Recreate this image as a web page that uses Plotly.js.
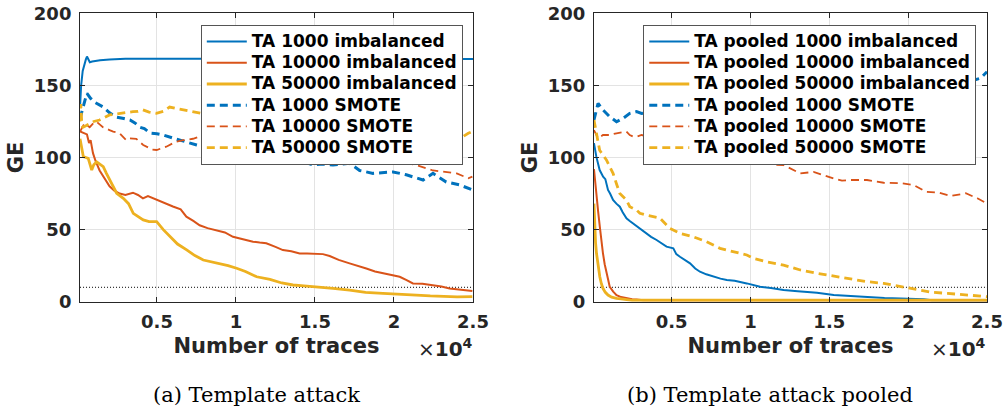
<!DOCTYPE html>
<html>
<head>
<meta charset="utf-8">
<script src="https://cdn.plot.ly/plotly-3.0.1.min.js"></script>
<style>
  html, body { margin: 0; padding: 0; background: #fff; }
  #chart { width: 1004px; height: 410px; }
</style>
</head>
<body>
<div id="chart"></div>
<script>
// ---------- data (x in units of 10^4 traces, y = guessing entropy) ----------
const xTickVals = [0.5, 1, 1.5, 2, 2.5];
const xTickText = ['0.5', '1', '1.5', '2', '2.5'];
const yTickVals = [0, 50, 100, 150, 200];
const threshold = 10;

const namesA = ['TA 1000 imbalanced', 'TA 10000 imbalanced', 'TA 50000 imbalanced',
                'TA 1000 SMOTE', 'TA 10000 SMOTE', 'TA 50000 SMOTE'];
const namesB = ['TA pooled 1000 imbalanced', 'TA pooled 10000 imbalanced', 'TA pooled 50000 imbalanced',
                'TA pooled 1000 SMOTE', 'TA pooled 10000 SMOTE', 'TA pooled 50000 SMOTE'];

// (a) Template attack
const aBlueImbX = [0.013, 0.02, 0.03, 0.04, 0.05, 0.057, 0.065, 0.075, 0.09, 0.11, 0.14, 0.2, 0.3, 0.5, 1.0, 1.5, 2.0, 2.5];
const aBlueImbY = [135, 150, 160, 165, 168, 170, 168, 166, 166.5, 167, 167.5, 168, 168.5, 168.5, 168.5, 168.5, 168.5, 168.3];

const aOrangeImbX = [0.013,0.03,0.057,0.07,0.08,0.095,0.11,0.137,0.17,0.2,0.23,0.264,0.3,0.348,0.38,0.411,0.443,0.47,0.496,0.55,0.601,0.65,0.686,0.73,0.77,0.82,0.876,0.93,0.981,1.05,1.108,1.15,1.192,1.25,1.297,1.35,1.403,1.45,1.508,1.55,1.593,1.65,1.719,1.77,1.825,1.88,1.930,1.98,2.036,2.08,2.120,2.18,2.247,2.30,2.352,2.42,2.496];
const aOrangeImbY = [118,117,116,110,112,103,98,91,85,80,77,75,74,75.6,74,71.7,73.3,72,70.5,68,66,64,59,56,53,51,49.7,48,45,43,41.6,41,40.5,38,35.8,35,33.5,33.5,33.5,33,31.7,29,26.6,25,23,21,19.7,18.5,17.3,15,12.7,12.5,11.6,10.5,9.2,8.3,7.4];

const aYellowImbX = [0.013,0.034,0.05,0.065,0.087,0.1,0.118,0.14,0.16,0.18,0.203,0.245,0.287,0.32,0.35,0.38,0.413,0.45,0.498,0.54,0.582,0.63,0.688,0.74,0.793,0.85,0.899,0.95,1.004,1.06,1.131,1.215,1.29,1.361,1.43,1.508,1.56,1.614,1.719,1.82,1.930,2.03,2.141,2.23,2.31,2.40,2.496];
const aYellowImbY = [113,100.6,100,99.4,91.3,95,97,95,93.6,89,84.4,75.2,71.7,68,61.3,59,56.7,55.5,55.5,50,45,40,35.9,32,28.9,27.5,26.6,25,23.2,21,17.3,15.5,13,11.6,11,10.4,9.5,9.2,8,6.5,5.8,5,4.6,4,3.5,3.4,3.5];

const aBlueSmoteX = [0.013,0.03,0.045,0.057,0.08,0.11,0.16,0.2,0.245,0.29,0.329,0.36,0.392,0.42,0.456,0.5,0.54,0.6,0.646,0.7,0.751,0.85,0.95,1.05,1.15,1.25,1.33,1.403,1.487,1.55,1.614,1.719,1.783,1.867,1.994,2.078,2.184,2.247,2.331,2.416,2.496];
const aBlueSmoteY = [127,133,140,144.5,141,138,135,131,128,127,126,124,121,120,117,116.5,115.6,113.5,112,110,108.7,106,104,102,101,100,99,98,94.8,95.5,94.8,96,91,89,90,88,84.4,89,83,81,77.5];

const aOrangeSmoteX = [0.013,0.042,0.074,0.097,0.116,0.158,0.2,0.223,0.264,0.306,0.329,0.369,0.413,0.432,0.47,0.498,0.53,0.559,0.6,0.622,0.666,0.728,0.77,0.85,0.95,1.065,1.2,1.34,1.45,1.6,1.7,1.825,1.93,2.036,2.141,2.247,2.323,2.397,2.47,2.496];
const aOrangeSmoteY = [118,123.7,121,123.7,125,121,119,118,116.8,112,113.3,113,108.7,107.5,105.5,105.2,106.5,107.5,109.8,111,112,113,114.5,110,104,100.6,101,100.6,100,99,98.5,98,96.6,97,94.8,91,90,89,85.6,86.7];

const aYellowSmoteX = [0.013,0.018,0.025,0.032,0.05,0.074,0.1,0.137,0.17,0.2,0.23,0.264,0.3,0.348,0.38,0.411,0.45,0.496,0.54,0.58,0.62,0.665,0.72,0.77,0.9,1.1,1.3,1.5,1.7,1.9,2.1,2.3,2.437,2.47,2.496];
const aYellowSmoteY = [125,137,122,121,122,123.7,125,126,128,129.5,130,130.6,131,131.8,132,133,131.5,130.6,132,135,134,133,131.5,130.6,128,125,122,121,119,117,116,115,114.5,116.8,118];

// (b) Template attack pooled
const bBlueImbX = [0.008,0.023,0.044,0.066,0.08,0.097,0.11,0.129,0.15,0.172,0.19,0.214,0.235,0.256,0.28,0.299,0.32,0.341,0.37,0.405,0.44,0.468,0.511,0.53,0.553,0.585,0.617,0.65,0.68,0.72,0.765,0.81,0.85,0.9,0.977,1.02,1.061,1.13,1.21,1.3,1.422,1.528,1.63,1.739,1.85,1.951,2.03,2.1,2.15,2.5];
const bBlueImbY = [110,100.6,91.3,86.7,85,77.5,75,70.5,68,65.9,62,57.8,56,54.3,52,50.9,49,47.4,45,42.8,40,38.2,37,33,31.2,29,26.6,23,20.8,19,17.3,16,15,14.5,12.7,11.5,10.4,9.5,8.1,7.3,6.2,4.6,4,3,2.5,2.3,2,1.8,1,1];

const bOrangeImbX = [0.008,0.016,0.024,0.035,0.045,0.055,0.065,0.076,0.087,0.097,0.108,0.13,0.151,0.18,0.214,0.25,0.278,0.32,2.5];
const bOrangeImbY = [92,82,72.8,62,52,42,33.6,26,19.7,14.5,10.4,7,4.6,3.2,2.3,1.8,1.5,1,1];

const bYellowImbX = [0.008,0.013,0.018,0.024,0.035,0.045,0.055,0.065,0.08,0.097,0.12,0.151,0.18,0.214,0.25,2.5];
const bYellowImbY = [68,49.7,41,33.6,24,17.3,12.5,9.3,6.5,4.6,3.2,2.3,2,1.7,1,1];

const bBlueSmoteX = [0.008,0.034,0.065,0.108,0.151,0.193,0.235,0.278,0.31,0.5,0.8,1.1,1.4,1.7,2.0,2.3,2.42,2.46,2.5];
const bBlueSmoteY = [126,137.6,133,128.3,124.8,127.2,130.6,131.8,130.6,133,136,140,144,148,151,153,153.8,155,159.5];

const bOrangeSmoteX = [0.008,0.034,0.065,0.108,0.151,0.193,0.214,0.235,0.256,0.278,0.31,0.45,0.6,0.75,0.9,0.955,1.04,1.104,1.16,1.21,1.26,1.316,1.4,1.485,1.528,1.58,1.633,1.739,1.845,1.963,2.036,2.111,2.195,2.27,2.365,2.439,2.498];
const bOrangeSmoteY = [119,113.3,115.6,115.6,116.8,117.9,118,115.6,114.5,114.4,115.6,112,108,104,100,98.3,96,97,95,94.8,92,89,90,86.7,85.5,84,84.4,84.4,82.5,82.1,80.9,76.3,75.6,73.3,75.2,71.7,68.2];

const bYellowSmoteX = [0.008,0.023,0.044,0.087,0.129,0.15,0.172,0.214,0.235,0.278,0.299,0.341,0.383,0.426,0.489,0.553,0.638,0.722,0.807,0.892,0.977,1.019,1.104,1.21,1.316,1.422,1.528,1.633,1.739,1.845,1.963,2.058,2.153,2.249,2.344,2.429,2.5];
const bYellowSmoteY = [126,116.8,105,98.3,89,82,75,70.5,65.9,63.6,61.3,60,59,58,50.9,47.4,45,41.6,37,34.7,32.4,30,27.7,25.4,22,19.7,17.8,16.2,13.9,12.7,10.4,8.1,6.5,5.8,5.1,4.2,3.5];

// ---------- styles ----------
const colors = ['#0072BD', '#D95319', '#EDB120', '#0072BD', '#D95319', '#EDB120'];
const widths = [2, 2, 2.8, 3, 1.8, 2.8];
const dashes = ['solid', 'solid', 'solid', '8px,5px', '8px,5px', '8px,5px'];
const tickColor = '#262626';

const seriesA = [[aBlueImbX, aBlueImbY], [aOrangeImbX, aOrangeImbY], [aYellowImbX, aYellowImbY],
                 [aBlueSmoteX, aBlueSmoteY], [aOrangeSmoteX, aOrangeSmoteY], [aYellowSmoteX, aYellowSmoteY]];
const seriesB = [[bBlueImbX, bBlueImbY], [bOrangeImbX, bOrangeImbY], [bYellowImbX, bYellowImbY],
                 [bBlueSmoteX, bBlueSmoteY], [bOrangeSmoteX, bOrangeSmoteY], [bYellowSmoteX, bYellowSmoteY]];

const xRangeA = [0.013, 2.5];
const xRangeB = [0.008, 2.5];

// legend labels rendered at 17px while rows are spaced for a 14px font
const legendLabel = n => '<span style="font-size:17px">' + n + '</span>';

const traces = [];
// threshold lines
traces.push({x: xRangeA, y: [threshold, threshold], xaxis: 'x', yaxis: 'y', mode: 'lines',
  line: {color: '#000', width: 1, dash: '1px,2px'}, showlegend: false, hoverinfo: 'skip'});
traces.push({x: xRangeB, y: [threshold, threshold], xaxis: 'x2', yaxis: 'y2', mode: 'lines',
  line: {color: '#000', width: 1, dash: '1px,2px'}, showlegend: false, hoverinfo: 'skip'});

seriesA.forEach((s, i) => traces.push({
  x: s[0], y: s[1], name: legendLabel(namesA[i]), xaxis: 'x', yaxis: 'y', mode: 'lines', legend: 'legend',
  line: {color: colors[i], width: widths[i], dash: dashes[i]}
}));
seriesB.forEach((s, i) => traces.push({
  x: s[0], y: s[1], name: legendLabel(namesB[i]), xaxis: 'x2', yaxis: 'y2', mode: 'lines', legend: 'legend2',
  line: {color: colors[i], width: widths[i], dash: dashes[i]}
}));

const tickFont = {family: 'DejaVu Sans', size: 18, weight: 'bold', color: tickColor};
const titleFont = {family: 'DejaVu Sans', size: 21, weight: 'bold', color: tickColor};

function xAxis(domain, range) {
  return {
    domain: domain, range: range, tickvals: xTickVals, ticktext: xTickText,
    showgrid: true, gridcolor: '#e3e3e3', gridwidth: 1, zeroline: false,
    ticks: 'inside', ticklen: 5, tickcolor: tickColor, tickwidth: 1,
    showline: true, linecolor: tickColor, linewidth: 1, mirror: 'ticks',
    tickfont: tickFont, ticklabelstandoff: 4,
    title: {text: 'Number of traces', font: titleFont, standoff: 6}
  };
}
function yAxis(anchor) {
  return {
    domain: [0.2641, 0.9676], range: [0, 200], tickvals: yTickVals, anchor: anchor,
    showgrid: true, gridcolor: '#e3e3e3', gridwidth: 1, zeroline: false,
    ticks: 'inside', ticklen: 5, tickcolor: tickColor, tickwidth: 1,
    showline: true, linecolor: tickColor, linewidth: 1, mirror: 'ticks',
    tickfont: tickFont, ticklabelstandoff: 4,
    title: {text: 'GE', font: titleFont, standoff: 4}
  };
}

const legendFont = {family: 'DejaVu Sans', size: 14, weight: 'bold', color: '#000'};
function legend(x) {
  return {x: x, y: 0.939, xanchor: 'left', yanchor: 'top', bgcolor: '#fff',
    bordercolor: '#555', borderwidth: 1, font: legendFont, itemwidth: 40,
    tracegroupgap: 0, itemclick: false};
}

const capFont = {family: 'DejaVu Serif', size: 21, color: '#000'};
const expFont = {family: 'DejaVu Sans', size: 20, color: tickColor};

const layout = {
  width: 1004, height: 410,
  margin: {l: 0, r: 0, t: 0, b: 0},
  paper_bgcolor: '#fff', plot_bgcolor: '#fff',
  showlegend: true,
  xaxis: Object.assign(xAxis([0.0797, 0.4711], xRangeA), {anchor: 'y'}),
  yaxis: yAxis('x'),
  xaxis2: Object.assign(xAxis([0.5916, 0.9831], xRangeB), {anchor: 'y2'}),
  yaxis2: yAxis('x2'),
  legend: legend(0.2),
  legend2: legend(0.6407),
  annotations: [
    {text: '(a) Template attack', xref: 'paper', yref: 'paper', x: 0.2555, y: 0.0366,
     xanchor: 'center', yanchor: 'middle', showarrow: false, font: capFont},
    {text: '(b) Template attack pooled', xref: 'paper', yref: 'paper', x: 0.7674, y: 0.0366,
     xanchor: 'center', yanchor: 'middle', showarrow: false, font: capFont},
    {text: '×<b>10</b><sup><b>4</b></sup>', xref: 'paper', yref: 'paper', x: 0.414, y: 0.1512,
     xanchor: 'left', yanchor: 'middle', showarrow: false, font: expFont},
    {text: '×<b>10</b><sup><b>4</b></sup>', xref: 'paper', yref: 'paper', x: 0.9253, y: 0.1512,
     xanchor: 'left', yanchor: 'middle', showarrow: false, font: expFont}
  ]
};

Plotly.newPlot('chart', traces, layout, {staticPlot: true, displayModeBar: false});
</script>
</body>
</html>
